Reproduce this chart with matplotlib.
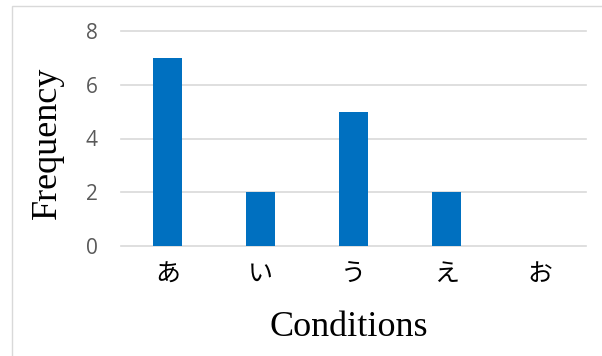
import matplotlib
matplotlib.use("Agg")
import matplotlib.pyplot as plt
from matplotlib.patches import Rectangle

categories = ["あ", "い", "う", "え", "お"]
counts = [7, 2, 5, 2, 0]
y_ticks = [0, 2, 4, 6, 8]

fig = plt.figure(figsize=(6.02, 3.56), dpi=100)
fig.patch.set_facecolor("white")

# thin frame around the chart area
fig.add_artist(Rectangle((12 / 602, -0.05), 1.0, 1 - 6 / 356 + 0.05,
                         transform=fig.transFigure, fill=False,
                         edgecolor="#d9d9d9", linewidth=1.0))

ax = fig.add_axes([121 / 602, 1 - 246 / 356, 465 / 602, 215 / 356])
x = range(len(categories))
ax.bar(x, counts, width=0.31, color="#0070C0", zorder=3)

ax.set_xlim(-0.5, len(categories) - 0.5)
ax.set_ylim(0, 8)
ax.set_yticks(y_ticks)
for t in y_ticks:
    ax.axhline(t, color="#d9d9d9", linewidth=1.2, zorder=1, clip_on=False)
for s in ax.spines.values():
    s.set_visible(False)
ax.tick_params(axis="both", length=0)
ax.tick_params(axis="y", pad=17, labelsize=15, labelcolor="#595959")
ax.tick_params(axis="x", pad=11)

ax.set_xticks(list(x))
ax.set_xticklabels(categories, fontsize=18, color="black",
                   family=["Noto Sans CJK JP", "DejaVu Sans"])
for lbl in ax.get_yticklabels():
    lbl.set_family(["Open Sans", "DejaVu Sans"])

ax.set_xlabel("Conditions", fontsize=26, family="Liberation Serif", va="center")
ax.xaxis.set_label_coords(0.49, (246 - 328) / 215)
ax.set_ylabel("Frequency", fontsize=26, family="Liberation Serif", va="center")
ax.yaxis.set_label_coords((47 - 121) / 465, (246 - 142.5) / 215)

fig.savefig("out.png", dpi=100, facecolor="white")
